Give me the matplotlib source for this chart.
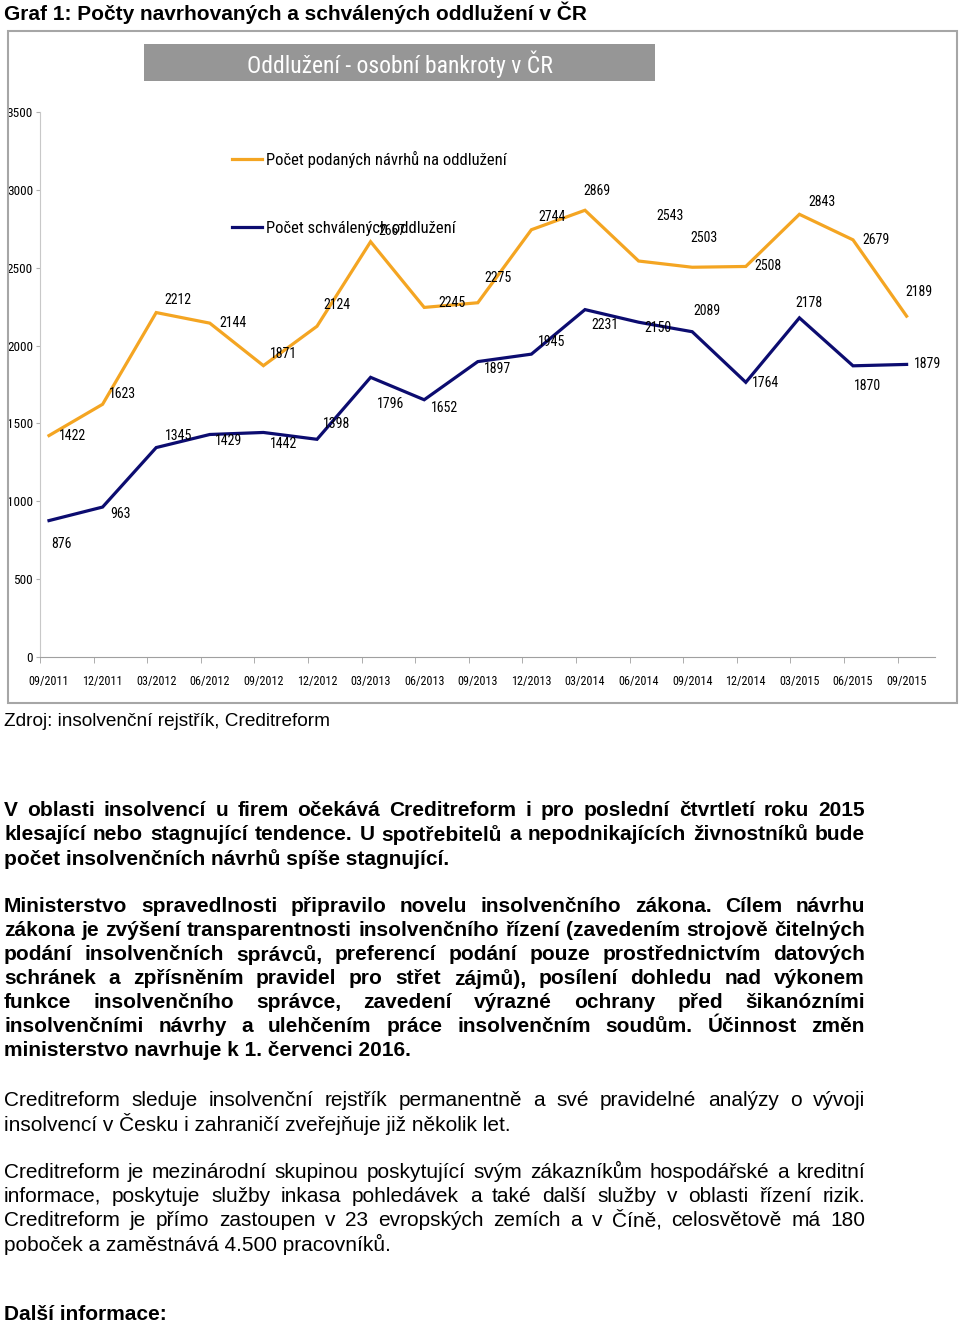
import matplotlib
matplotlib.use('Agg')
import matplotlib.pyplot as plt
from matplotlib import font_manager
from matplotlib.patches import Rectangle

# quarters shown on the x axis
periods = ['09/2011', '12/2011', '03/2012', '06/2012', '09/2012', '12/2012',
           '03/2013', '06/2013', '09/2013', '12/2013', '03/2014', '06/2014',
           '09/2014', '12/2014', '03/2015', '06/2015', '09/2015']

# number of filed proposals (orange) and approved debt relief (blue)
podane = [1422, 1623, 2212, 2144, 1871, 2124, 2667, 2245, 2275, 2744,
          2869, 2543, 2503, 2508, 2843, 2679, 2189]
schvalene = [876, 963, 1345, 1429, 1442, 1398, 1796, 1652, 1897, 1945,
             2231, 2150, 2089, 1764, 2178, 1870, 1879]

label_podane = 'Počet podaných návrhů na oddlužení'
label_schvalene = 'Počet schválených oddlužení'

# data label offsets in pixels (the labels were moved by hand in the original)
off_podane = [(23, 0), (20, -10), (22, -13), (23, 0), (20, -12), (20, -21),
              (21, -11), (28, -4), (20, -25), (21, -13), (12, -19), (31, -45),
              (12, -29), (22, 0), (23, -12), (23, 0), (12, -24)]
off_schvalene = [(12, 23), (18, 7), (22, -12), (19, 7), (20, 12), (20, -15),
                 (20, 27), (20, 8), (20, 7), (20, -12), (20, 15), (19, 6),
                 (15, -21), (20, 1), (10, -15), (15, 20), (21, 0)]

W, H = 960, 1325
ORANGE = '#f4a522'
NAVY = '#0c0c70'

names = {f.name for f in font_manager.fontManager.ttflist}
narrow = next((n for n in ['Liberation Sans Narrow', 'Roboto Condensed',
                           'DejaVu Sans Condensed'] if n in names), 'Liberation Sans')
body = 'Liberation Sans' if 'Liberation Sans' in names else 'DejaVu Sans'

fig = plt.figure(figsize=(W / 100, H / 100), dpi=100)


def fx(x):
    return x / W


def fy(y):
    return 1 - y / H


# page title
fig.text(fx(4), fy(13), 'Graf 1: Počty navrhovaných a schválených oddlužení v ČR',
         family=body, fontweight='bold', fontsize=15, va='center')

# chart frame and grey banner
fig.patches.append(Rectangle((fx(8), fy(703)), fx(949), 672 / H, transform=fig.transFigure,
                             fill=False, edgecolor='#a6a6a6', lw=1.5))
fig.patches.append(Rectangle((fx(144), fy(81)), fx(511), 37 / H, transform=fig.transFigure,
                             facecolor='#969696', edgecolor='none'))
fig.text(fx(400), fy(64), 'Oddlužení - osobní bankroty v ČR', family=narrow,
         color='white', fontsize=17, ha='center', va='center')

# axes area: 0 at y=657, 3500 at y=112
x0 = -9 / 53.6
x1 = (935 - 49) / 53.6
ax = fig.add_axes([fx(40), fy(657), fx(895), 545 / H])
xs = list(range(len(periods)))
ax.plot(xs, podane, color=ORANGE, lw=2.3, label=label_podane, solid_joinstyle='miter')
ax.plot(xs, schvalene, color=NAVY, lw=2.3, label=label_schvalene, solid_joinstyle='miter')
ax.set_xlim(x0, x1)
ax.set_ylim(0, 3500)
ax.set_yticks(range(0, 3501, 500))
ax.set_xticks(xs)
ax.set_xticklabels(periods)
ax.set_xticks([i + x0 for i in xs], minor=True)
ax.tick_params(axis='x', which='major', length=0, pad=13, labelsize=8.7)
ax.tick_params(axis='x', which='minor', length=4, color='#a0a0a0', direction='out')
ax.tick_params(axis='y', length=3, color='#b0b0b0', pad=2, labelsize=9.5)
for lab in ax.get_xticklabels() + ax.get_yticklabels():
    lab.set_family(narrow)
for s in ['top', 'right']:
    ax.spines[s].set_visible(False)
ax.spines['left'].set_color('#c8c8c8')
ax.spines['bottom'].set_color('#a0a0a0')
ax.patch.set_alpha(0)

for i, v in enumerate(podane):
    dx, dy = off_podane[i]
    ax.annotate(str(v), (i, v), xytext=(dx, -dy), textcoords='offset pixels',
                ha='center', va='center', family=narrow, fontsize=10)
for i, v in enumerate(schvalene):
    dx, dy = off_schvalene[i]
    ax.annotate(str(v), (i, v), xytext=(dx, -dy), textcoords='offset pixels',
                ha='center', va='center', family=narrow, fontsize=10)

leg = ax.legend(loc='upper left', bbox_to_anchor=(fx(232), fy(151)),
                bbox_transform=fig.transFigure, frameon=False, borderpad=0,
                borderaxespad=0, handlelength=1.8, handletextpad=0.25,
                labelspacing=3.15, prop={'family': narrow, 'size': 12})

# text below the chart
fig.text(fx(4), fy(722), 'Zdroj: insolvenční rejstřík, Creditreform', family=body,
         fontsize=13.7, va='center')

paragraphs = [
    (811, 'bold', [
        'V oblasti insolvencí u firem očekává Creditreform i pro poslední čtvrtletí roku 2015',
        'klesající nebo stagnující tendence. U spotřebitelů a nepodnikajících živnostníků bude',
        'počet insolvenčních návrhů spíše stagnující.']),
    (907, 'bold', [
        'Ministerstvo spravedlnosti připravilo novelu insolvenčního zákona. Cílem návrhu',
        'zákona je zvýšení transparentnosti insolvenčního řízení (zavedením strojově čitelných',
        'podání insolvenčních správců, preferencí podání pouze prostřednictvím datových',
        'schránek a zpřísněním pravidel pro střet zájmů), posílení dohledu nad výkonem',
        'funkce insolvenčního správce, zavedení výrazné ochrany před šikanózními',
        'insolvenčními návrhy a ulehčením práce insolvenčním soudům. Účinnost změn',
        'ministerstvo navrhuje k 1. červenci 2016.']),
    (1100, 'normal', [
        'Creditreform sleduje insolvenční rejstřík permanentně a své pravidelné analýzy o vývoji',
        'insolvencí v Česku i zahraničí zveřejňuje již několik let.']),
    (1172, 'normal', [
        'Creditreform je mezinárodní skupinou poskytující svým zákazníkům hospodářské a kreditní',
        'informace, poskytuje služby inkasa pohledávek a také další služby v oblasti řízení rizik.',
        'Creditreform je přímo zastoupen v 23 evropských zemích a v Číně, celosvětově má 180',
        'poboček a zaměstnává 4.500 pracovníků.']),
]

BODY_SIZE = 15
renderer = fig.canvas.get_renderer()
left, right = 4, 865
for y_start, weight, lines in paragraphs:
    for k, line in enumerate(lines):
        y = y_start + 24 * k
        if k == len(lines) - 1:
            fig.text(fx(left), fy(y), line, family=body, fontweight=weight,
                     fontsize=BODY_SIZE, va='center')
            continue
        # justified line: spread the words over the full width
        words = line.split(' ')
        arts = [fig.text(0, fy(y), w, family=body, fontweight=weight,
                         fontsize=BODY_SIZE, va='center') for w in words]
        widths = [a.get_window_extent(renderer).width for a in arts]
        gap = (right - left - sum(widths)) / (len(words) - 1)
        x = left
        for a, w in zip(arts, widths):
            a.set_x(fx(x))
            x += w + gap

fig.text(fx(4), fy(1315), 'Další informace:', family=body, fontweight='bold',
         fontsize=BODY_SIZE, va='center')

fig.savefig('out.png', dpi=100)
